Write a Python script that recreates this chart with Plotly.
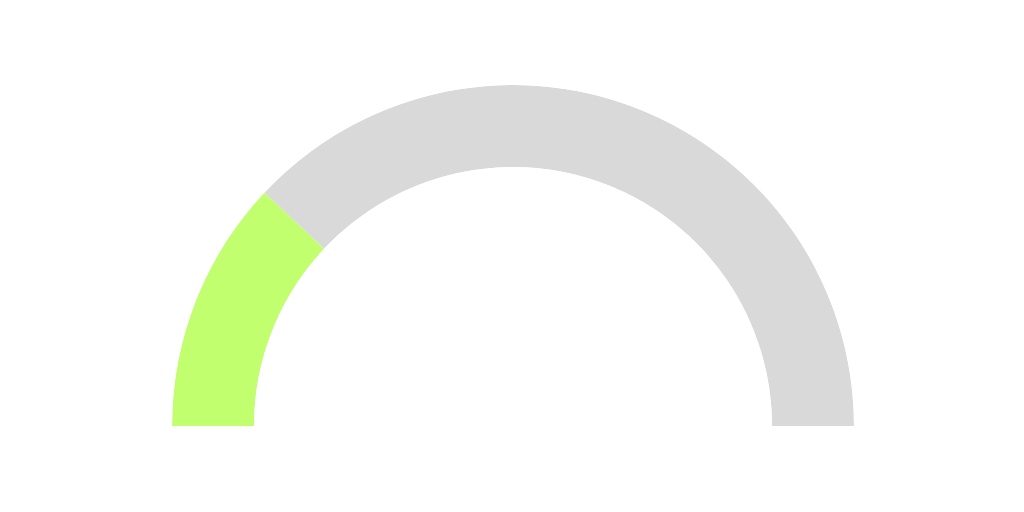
import plotly.graph_objects as go

# Gauge data
gauge_value = [24]
gauge_max = [100]
segment_names = ["value", "remainder"]
segment_colors = ["#c1ff6f", "#d9d9d9"]

v = gauge_value[0]
m = gauge_max[0]
spans = [v / m * 180.0, (m - v) / m * 180.0]
# sweep clockwise from 180° (left) to 0° (right)
thetas = []
start = 180.0
for s in spans:
    thetas.append(start - s / 2.0)
    start -= s

fig = go.Figure()
fig.add_trace(go.Barpolar(
    r=[1, 1],
    theta=thetas,
    width=spans,
    marker=dict(color=segment_colors, line=dict(width=0)),
    name="",
    hoverinfo="skip",
    showlegend=False,
))

fig.update_layout(
    width=1024, height=512,
    margin=dict(l=0, r=0, t=0, b=0),
    paper_bgcolor="white",
    showlegend=False,
    polar=dict(
        domain=dict(x=[163.5/1024, 846.5/1024], y=[94/512, 435/512]),
        sector=[0, 180],
        hole=259/341,
        bgcolor="rgba(0,0,0,0)",
        bargap=0,
        radialaxis=dict(visible=False, range=[0, 1], showgrid=False, showline=False, showticklabels=False, ticks=""),
        angularaxis=dict(visible=False, showgrid=False, showline=False, showticklabels=False, ticks=""),
    ),
)

fig.write_html("out.html")
